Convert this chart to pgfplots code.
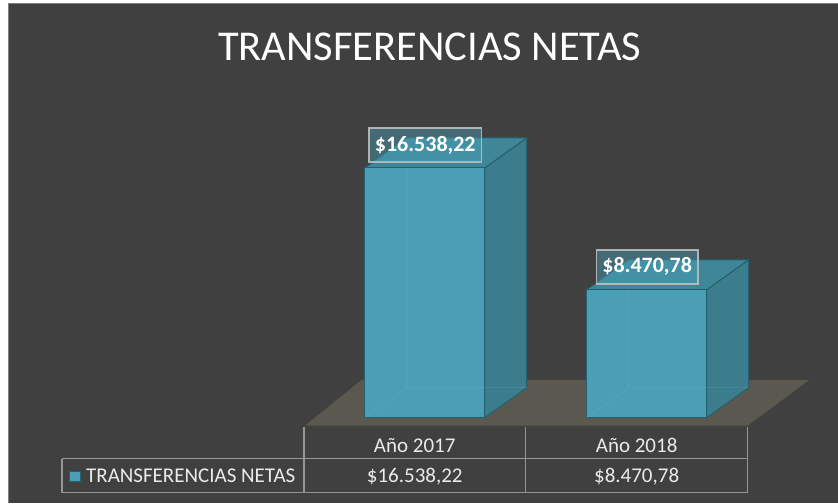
\documentclass[border=0pt]{standalone}
\usepackage{pgfplots}
\pgfplotsset{compat=1.18}
\usepackage{fontspec}
\setmainfont{Carlito}
\definecolor{bg}{RGB}{64,64,64}
\definecolor{bordergray}{RGB}{128,128,128}
\definecolor{front}{RGB}{74,158,181}
\definecolor{side}{RGB}{59,125,140}
\definecolor{topc}{RGB}{63,135,152}
\definecolor{edge}{RGB}{36,96,110}
\definecolor{floorc}{RGB}{91,88,80}
\definecolor{tabline}{RGB}{150,150,150}
\definecolor{tabtext}{RGB}{235,235,235}
\definecolor{boxline}{RGB}{190,190,190}
\newcommand\fs[1]{\fontsize{#1bp}{#1bp}\selectfont}
\pgfkeys{/pgf/number format/.cd, assume math mode=true, fixed, fixed zerofill, precision=2, 1000 sep={.}, use comma}
% data
\def\va{16538.22}
\def\vb{8470.78}
% 3D geometry (axis units)
\def\hw{0.27027}
\def\dx{0.18919}
\def\dy{1984.6}
\edef\aL{\fpeval{0-\hw}}\edef\aR{\fpeval{0+\hw}}
\edef\aLL{\fpeval{0-\hw+\dx}}\edef\aRR{\fpeval{0+\hw+\dx}}
\edef\bL{\fpeval{1-\hw}}\edef\bR{\fpeval{1+\hw}}
\edef\bLL{\fpeval{1-\hw+\dx}}\edef\bRR{\fpeval{1+\hw+\dx}}
\edef\vat{\fpeval{\va+\dy}}\edef\vbt{\fpeval{\vb+\dy}}
\begin{document}
\begin{tikzpicture}
\begin{scope}[x=1bp,y=-1bp,yshift=503bp]
  \fill[white] (0,0) rectangle (838,503);
  \fill[bg] (8,3) rectangle (838,503);
  \draw[bordergray, line width=1bp] (8.5,503) -- (8.5,3.5) -- (838,3.5);
  \fill[floorc] (305,426) -- (748,426) -- (810,380) -- (362,380) -- cycle;
  \node[anchor=base, text=white, font=\fs{42.5}, inner sep=0] at (430,61) {TRANSFERENCIAS NETAS};
  \draw[tabline, line width=1.5bp] (304,427)--(304,493) (526,427)--(526,493) (748,427)--(748,493)
     (62,459)--(62,493) (62,459)--(748,459) (62,493)--(748,493);
  \begin{scope}[font=\fs{21}, text=tabtext, inner sep=0]
  \node[anchor=base] at (415,453) {Año 2017};
  \node[anchor=base] at (637,453) {Año 2018};
  \node[anchor=base west] at (86,483) {TRANSFERENCIAS NETAS};
  \node[anchor=base] at (415,483) {\$\pgfmathprintnumber{\va}};
  \node[anchor=base] at (637,483) {\$\pgfmathprintnumber{\vb}};
  \end{scope}
  \filldraw[fill=front, draw=edge, line width=1bp] (69.5,471.5) rectangle (80.5,481.5);
\end{scope}
\begin{axis}[at={(0,0)}, anchor=south west, width=838bp, height=503bp, scale only axis,
  hide axis, clip=false,
  xmin=-1.914414, xmax=1.860360, ymin=-5622.99, ymax=27651.90]
  % right faces
  \addplot[fill=side, draw=edge, line width=1bp] coordinates {(\aR,0) (\aRR,\dy) (\aRR,\vat) (\aR,\va)} -- cycle;
  \addplot[fill=side, draw=edge, line width=1bp] coordinates {(\bR,0) (\bRR,\dy) (\bRR,\vbt) (\bR,\vb)} -- cycle;
  % top faces
  \addplot[fill=topc, draw=edge, line width=1bp] coordinates {(\aL,\va) (\aR,\va) (\aRR,\vat) (\aLL,\vat)} -- cycle;
  \addplot[fill=topc, draw=edge, line width=1bp] coordinates {(\bL,\vb) (\bR,\vb) (\bRR,\vbt) (\bLL,\vbt)} -- cycle;
  % front faces with labels
  \addplot[ybar, bar width=0.54054, fill=front, draw=edge, line width=1bp,
    point meta=y,
    nodes near coords={\$\pgfmathprintnumber{\pgfplotspointmeta}},
    every node near coord/.append style={anchor=center, yshift=23bp, xshift=0.5bp,
      font=\bfseries\fs{22}, text=white, fill=front, fill opacity=0.45, text opacity=1,
      draw=boxline, draw opacity=0.9, line width=1.5bp, inner xsep=6bp,
      minimum height=34bp}]
    coordinates {(0,\va) (1,\vb)};
  % faint hidden edges seen through the bars
  \addplot[draw=front!75!white, draw opacity=0.25, line width=0.8bp] coordinates {(\aL,0) (\aLL,\dy) (\aRR,\dy)};
  \addplot[draw=front!75!white, draw opacity=0.25, line width=0.8bp] coordinates {(\aLL,\dy) (\aLL,\va)};
  \addplot[draw=front!75!white, draw opacity=0.25, line width=0.8bp] coordinates {(\bL,0) (\bLL,\dy) (\bRR,\dy)};
  \addplot[draw=front!75!white, draw opacity=0.25, line width=0.8bp] coordinates {(\bLL,\dy) (\bLL,\vb)};
\end{axis}
\end{tikzpicture}
\end{document}
